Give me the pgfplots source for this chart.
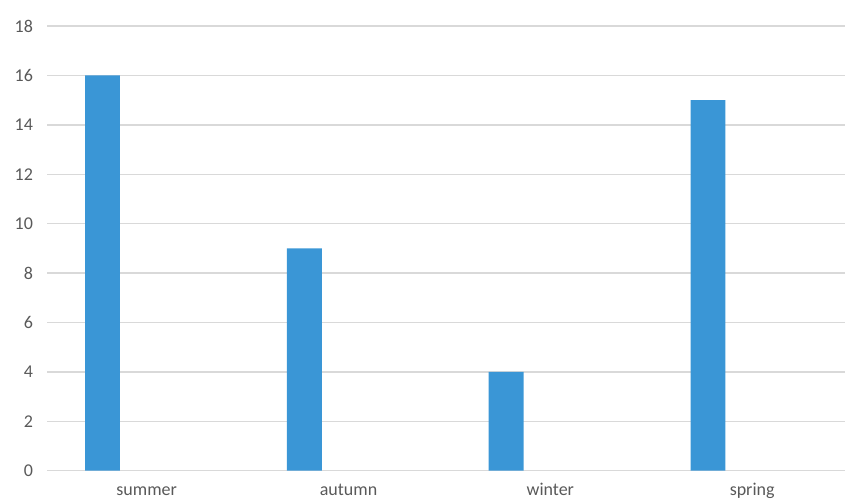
\documentclass[border=0pt]{standalone}
\usepackage{fontspec}
\setmainfont{Carlito}
\usepackage{pgfplots}
\pgfplotsset{compat=1.18}
\definecolor{barblue}{HTML}{3A96D6}
\definecolor{gridgray}{HTML}{D9D9D9}
\definecolor{labgray}{HTML}{595959}
\begin{document}
\begin{tikzpicture}
\useasboundingbox (0pt,0pt) rectangle (633.75pt,377.25pt);
\begin{axis}[
  at={(35.25pt,24.2pt)}, anchor=south west,
  scale only axis,
  width=598.5pt, height=333.5pt,
  xmin=-0.494, xmax=3.46,
  ymin=0, ymax=18,
  ytick={0,2,...,18},
  xtick={0,1,2,3},
  xticklabels={summer,autumn,winter,spring},
  axis line style={draw=none},
  major tick length=0pt,
  ymajorgrids,
  grid style={gridgray, line width=1pt},
  tick label style={font=\fontsize{13.5}{16}\selectfont, text=labgray},
  yticklabel style={xshift=-7pt},
  xticklabel style={yshift=-8pt, text height=1.5ex, text depth=0.25ex},
  /pgf/number format/assume math mode=true,
  clip=false,
]
\addplot[ybar, bar width=0.173, bar shift=-0.219, fill=barblue, draw=none]
  coordinates {(0,16) (1,9) (2,4) (3,15)};
\end{axis}
\end{tikzpicture}
\end{document}
